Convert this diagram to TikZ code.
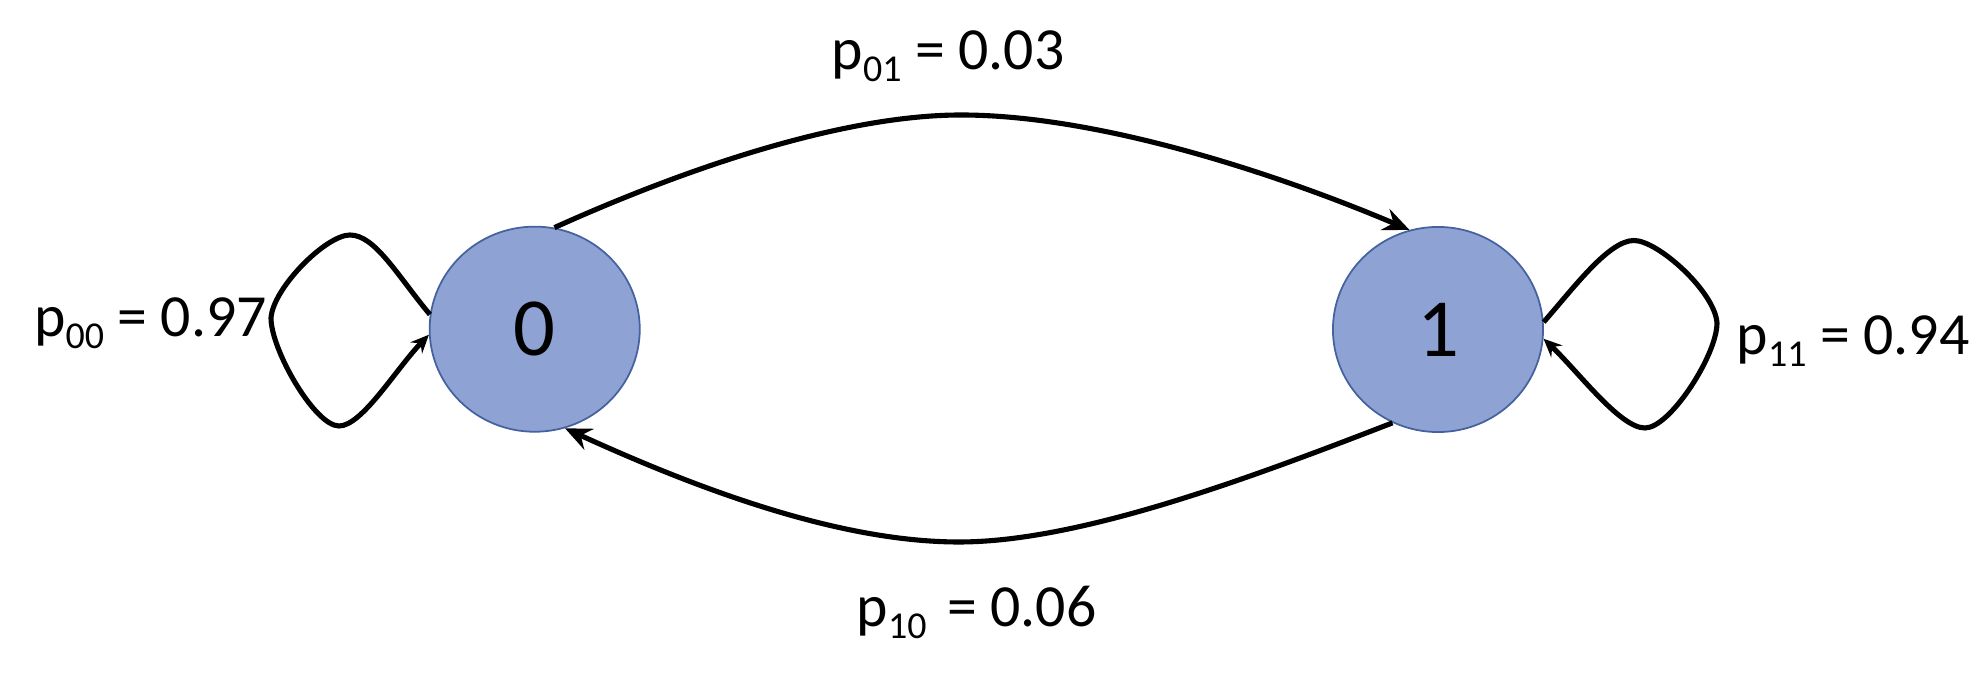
\documentclass[tikz,border=0pt]{standalone}
\usepackage{fontspec}
\setmainfont{Carlito}
\usetikzlibrary{arrows.meta,shapes.geometric}
\definecolor{statefill}{HTML}{8EA3D4}
\definecolor{stateline}{HTML}{45629F}
\newcommand{\lsub}[1]{\raisebox{-0.19em}{\fontsize{10.8}{12}\selectfont #1}}
\begin{document}
\begin{tikzpicture}[x=0.01cm,y=-0.01cm,
  state/.style={ellipse, draw=stateline, line width=0.5pt, fill=statefill,
    minimum width=2.1cm, minimum height=2.05cm, inner sep=0pt,
    font=\fontsize{23.5}{25}\selectfont},
  trans/.style={line width=1.45pt, -{Stealth[length=7.5pt,width=6.5pt,inset=2.6pt]}},
  selfloop/.style={line width=1.45pt, -{Stealth[length=5.2pt,width=4.6pt,inset=1.8pt]}},
  lbl/.style={anchor=base west, inner sep=0pt, font=\fontsize{17}{20}\selectfont}]
\useasboundingbox (0,0) rectangle (1984,677);
\node[state] (s0) at (534.7,329.2) {0};
\node[state] (s1) at (1438,329.5) {1};
\coordinate (top) at (961,115);
\coordinate (bot) at (959,542);
% 0 -> 1
\draw[trans] (s0.79.5) .. controls (700,162) and (850,115) .. (top)
  .. controls (1100,115) and (1280,175) .. (s1.106);
% 1 -> 0
\draw[trans] (s1.244) .. controls (1250,478) and (1080,542) .. (bot)
  .. controls (840,542) and (700,490) .. (s0.287);
% 0 -> 0
\draw[selfloop] (s0.172) .. controls (397.6,275.8) and (375,235) .. (350,235)
  .. controls (326,235) and (273,288) .. (271,318)
  .. controls (271,350) and (315,426) .. (339,426)
  .. controls (362,426) and (396,369) .. (s0.183);
% 1 -> 1
\draw[selfloop] (s1.4.6) .. controls (1575.2,286) and (1609,240.5) .. (1634,240.5)
  .. controls (1658,240.5) and (1715,292) .. (1717,323)
  .. controls (1717,355) and (1670,428) .. (1645,428)
  .. controls (1620,428) and (1579,372.5) .. (s1.-5.5);
\node[lbl] (l00) at (33.5,337) {p\lsub{00} = 0.97};
\node[lbl] (l01) at (831,70) {p\lsub{01} = 0.03};
\node[lbl] (l10) at (856,627) {p\lsub{10}\hspace{0.12em} = 0.06};
\node[lbl] (l11) at (1736,355) {p\lsub{11} = 0.94};
\end{tikzpicture}
\end{document}
